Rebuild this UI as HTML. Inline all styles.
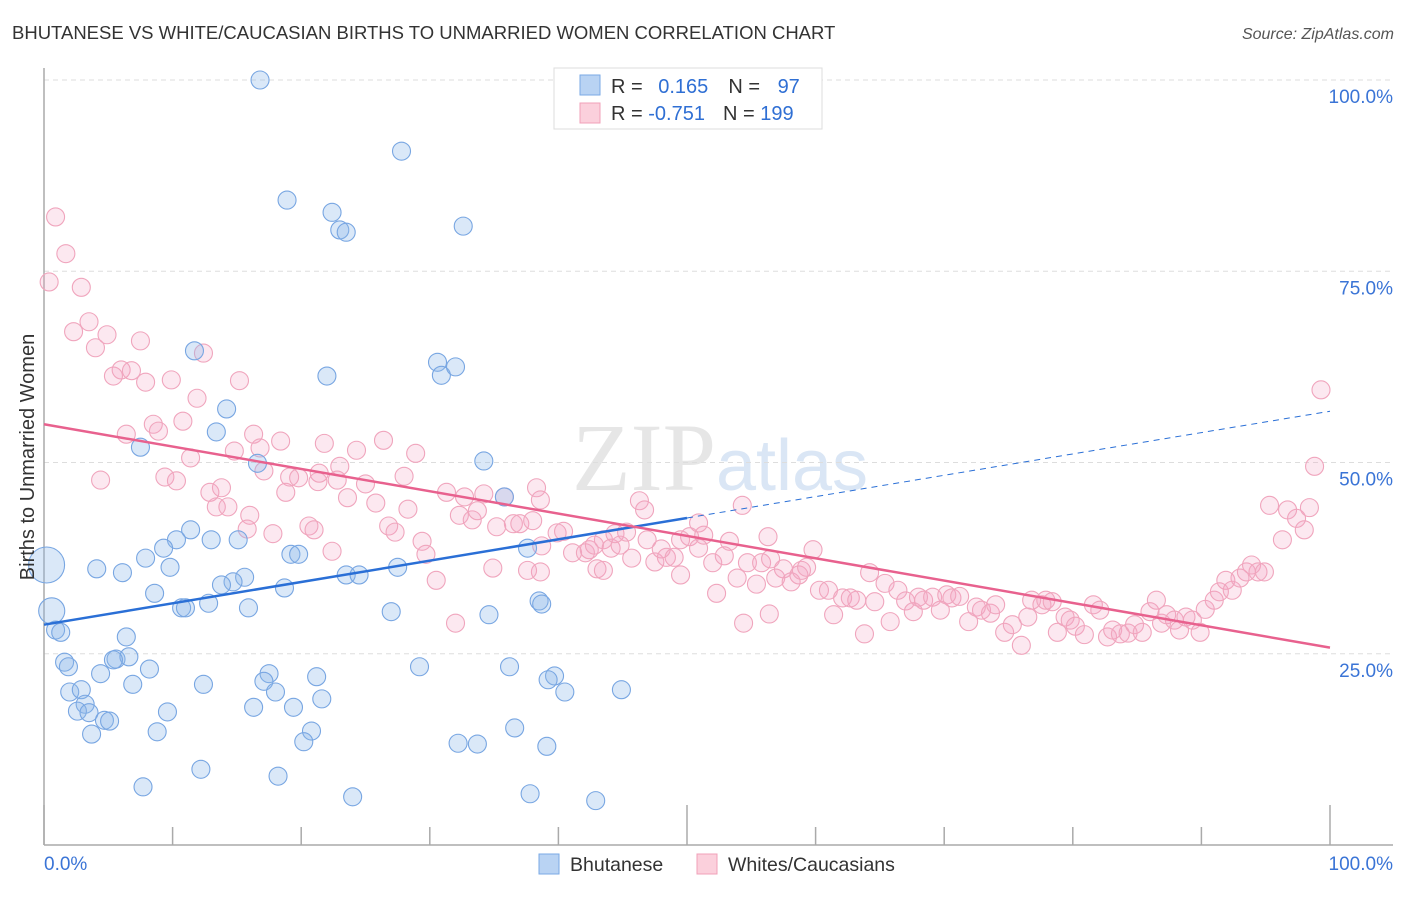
<!DOCTYPE html>
<html><head><meta charset="utf-8"><style>
body{margin:0;background:#fff;font-family:"Liberation Sans",sans-serif;}
</style></head><body>
<svg id="chart" width="1406" height="892" viewBox="0 0 1406 892" xmlns="http://www.w3.org/2000/svg" font-family="Liberation Sans, sans-serif">
<text x="12" y="39" font-size="18.5" fill="#333">BHUTANESE VS WHITE/CAUCASIAN BIRTHS TO UNMARRIED WOMEN CORRELATION CHART</text>
<text x="1394" y="39" font-size="16" fill="#555" font-style="italic" text-anchor="end">Source: ZipAtlas.com</text>
<text x="720" y="490" font-size="96" fill="#e6e6e6" text-anchor="middle" font-family="Liberation Serif, serif">ZIP<tspan fill="#dae6f5" font-family="Liberation Sans, sans-serif" font-size="72">atlas</tspan></text>
<g id="grid"></g>
<g id="axes"></g>
<g id="pts"></g>
<g id="trend"></g>
<text transform="translate(34,457) rotate(-90)" font-size="20" fill="#333" text-anchor="middle">Births to Unmarried Women</text>
<g>
<rect x="554" y="68" width="268" height="61" fill="#fff" stroke="#ddd"/>
<rect x="580" y="75" width="20" height="20" fill="#b9d3f3" stroke="#7aaae6"/>
<rect x="580" y="103" width="20" height="20" fill="#fbd0dc" stroke="#f0a0b8"/>
<text x="611" y="93" font-size="20" fill="#333">R = <tspan fill="#2f6fd4" dx="10">0.165</tspan><tspan dx="20" fill="#333">N = </tspan><tspan dx="12" fill="#2f6fd4">97</tspan></text>
<text x="611" y="120" font-size="20" fill="#333">R = <tspan fill="#2f6fd4">-0.751</tspan><tspan dx="18" fill="#333">N = </tspan><tspan fill="#2f6fd4">199</tspan></text>
</g>
<g>
<rect x="539" y="854" width="20" height="20" fill="#b9d3f3" stroke="#7aaae6"/>
<text x="570" y="871" font-size="19.5" fill="#333">Bhutanese</text>
<rect x="697" y="854" width="20" height="20" fill="#fbd0dc" stroke="#f0a0b8"/>
<text x="728" y="871" font-size="19.5" fill="#333">Whites/Caucasians</text>
</g>
</svg>
<script>
const blueX=[16.8,27.8,18.9,22.4,23.0,23.5,32.6,11.7,30.6,30.9,32.0,22.0,14.2,13.4,7.5,16.6,34.2,35.8,11.4,10.3,13.0,15.1,9.3,7.9,9.8,4.1,6.1,19.2,19.8,37.6,27.5,15.6,14.7,13.8,18.7,8.6,23.5,24.5,12.8,15.9,10.7,11.0,27.0,34.6,38.5,38.7,0.9,1.3,6.4,1.6,1.9,4.4,5.6,6.6,8.2,5.4,17.5,21.2,29.2,36.2,39.7,39.2,40.5,44.9,6.9,12.4,17.1,18.0,2.0,2.9,3.2,2.6,3.5,21.6,19.4,16.3,9.6,4.7,5.1,3.7,8.8,20.8,20.2,32.2,33.7,36.6,39.1,12.2,18.2,7.7,24.0,37.8,42.9,0.2,0.6];
const blueY=[100,90.7,84.3,82.7,80.4,80.1,80.9,64.6,63.1,61.4,62.5,61.3,57.0,54.0,52.0,49.9,50.2,45.5,41.2,39.9,39.9,39.9,38.8,37.5,36.3,36.1,35.6,38.0,38.0,38.8,36.3,35.0,34.4,34.0,33.6,32.9,35.3,35.3,31.6,31.0,31.0,31.0,30.5,30.1,31.9,31.5,28.1,27.8,27.2,23.9,23.3,22.4,24.3,24.6,23.0,24.2,22.4,22.0,23.3,23.3,22.1,21.6,20.0,20.3,21.0,21.0,21.4,20.0,20.0,20.3,18.4,17.5,17.3,19.1,18.0,18.0,17.4,16.3,16.2,14.5,14.8,14.9,13.5,13.3,13.2,15.3,12.9,9.9,9.0,7.6,6.3,6.7,5.8,36.6,30.6];
const blueWeight=new Array(93).fill(1).concat([2,1.45]);
const pinkX=[0.9,1.7,0.4,2.9,2.3,3.5,4.0,4.9,7.5,12.4,5.4,6.0,6.8,7.9,9.9,11.9,15.2,4.4,8.5,8.9,10.8,6.4,11.4,14.8,16.3,18.4,16.8,21.8,24.3,26.4,28.9,9.4,10.3,12.9,13.8,13.4,14.3,16.0,17.1,19.1,19.8,18.8,21.3,23.0,25.0,22.8,23.6,25.8,28.0,21.4,28.3,31.3,32.7,34.2,35.8,38.3,38.6,15.8,17.8,20.6,21.0,22.4,26.8,27.3,29.4,29.7,30.5,32.3,33.3,33.7,35.2,36.5,37.0,38.0,39.9,40.4,41.1,42.1,42.4,43.0,43.5,44.1,44.8,45.7,46.3,46.7,44.4,45.3,47.5,48.0,48.4,49.0,49.5,50.2,50.9,51.3,52.0,52.9,53.3,53.9,54.7,55.4,55.8,56.5,56.9,57.5,58.1,58.7,58.9,59.3,59.8,60.3,61.0,61.4,62.1,62.7,63.2,64.2,64.6,65.4,65.8,66.4,67.0,67.6,68.0,68.4,69.1,69.7,70.2,70.6,71.2,71.9,72.5,72.9,73.6,74.0,74.7,75.3,76.0,76.5,76.8,77.6,77.9,78.4,78.8,79.4,79.8,80.2,80.9,81.6,82.1,82.7,83.1,83.7,84.3,84.8,85.4,86.0,86.5,86.9,87.3,87.9,88.3,88.8,89.3,89.9,90.3,91.0,91.4,91.9,92.4,93.0,93.5,93.9,94.4,94.9,95.3,96.3,96.7,97.4,98.0,98.4,98.8,99.3,63.8,54.4,56.4,52.3,32.0,38.6,34.9,37.6,43.5,42.8,38.7,56.3,54.3,50.9,46.9,49.5];
const pinkY=[82.1,77.3,73.6,72.9,67.1,68.4,65.0,66.7,65.9,64.3,61.3,62.1,62.0,60.5,60.8,58.4,60.7,47.7,55.0,54.1,55.4,53.7,50.6,51.5,53.7,52.8,51.9,52.5,51.6,52.9,51.2,48.1,47.6,46.1,46.7,44.2,44.2,43.1,48.9,48.1,48.0,46.1,47.5,49.5,47.2,47.7,45.4,44.7,48.2,48.6,43.9,46.1,45.5,45.9,45.5,46.7,45.1,41.3,40.7,41.7,41.2,38.4,41.7,40.9,39.7,38.0,34.6,43.1,42.5,43.7,41.6,42.0,42.0,42.4,40.8,41.0,38.2,38.2,38.6,36.1,39.9,38.8,39.2,37.5,45.0,43.8,40.7,40.9,37.0,38.7,37.6,37.6,35.3,40.3,38.8,40.5,36.9,37.8,39.7,34.9,36.9,34.1,36.9,37.4,34.9,36.1,34.4,35.3,35.9,36.3,38.6,33.3,33.3,30.1,32.3,32.3,32.0,35.6,31.8,34.2,29.2,33.3,31.9,30.5,32.4,32.0,32.4,30.7,32.7,32.3,32.5,29.2,31.1,30.7,30.3,31.4,27.8,28.8,26.1,29.8,32.0,31.4,32.0,31.8,27.8,29.8,29.4,28.6,27.5,31.4,30.7,27.2,28.1,27.6,27.7,28.8,27.8,30.5,32.0,29.0,30.1,29.4,28.1,29.8,29.4,27.8,30.8,32.0,33.1,34.6,33.3,34.9,35.7,36.6,35.7,35.7,44.4,39.9,43.8,42.7,41.2,44.1,49.5,59.5,27.6,29.0,30.2,32.9,29.0,35.7,36.2,35.9,35.9,39.2,39.1,40.3,44.4,42.1,39.9,39.9];
const blueTrend=[28.8,56.7];
const pinkTrend=[55.0,25.8];
const yTicks=[25,50,75,100];
const yTickLabels=["25.0%","50.0%","75.0%","100.0%"];
const xTicks=[0,10,20,30,40,50,60,70,80,90,100];

const NS="http://www.w3.org/2000/svg";
const X0=44,X1=1330,Y0=845,Y1=80;
const sx=v=>X0+(X1-X0)*v/100;
const sy=v=>Y0-(Y0-Y1)*v/100;
function mk(tag,attrs,parent){const e=document.createElementNS(NS,tag);for(const k in attrs)e.setAttribute(k,attrs[k]);parent.appendChild(e);return e;}
const grid=document.getElementById('grid'),axes=document.getElementById('axes'),pts=document.getElementById('pts'),trend=document.getElementById('trend');
yTicks.forEach((t,i)=>{
  const l=mk('line',{x1:X0,x2:1393,y1:sy(t),y2:sy(t),stroke:'#ddd','stroke-dasharray':'5,4'},grid);
  
  
  const tx=mk('text',{x:1393,y:sy(t)+23,'font-size':19,fill:'#3a74d6','text-anchor':'end'},grid);
  tx.textContent=yTickLabels[i];
  
  
});
const ax=mk('line',{x1:X0,x2:1393,y1:Y0,y2:Y0,stroke:'#aaa','stroke-width':1.5},axes);


const ay=mk('line',{x1:X0,x2:X0,y1:68,y2:Y0,stroke:'#aaa','stroke-width':1.5},axes);


xTicks.forEach(t=>{
  const tl=(t===0||t===50||t===100)?40:18;
  const l=mk('line',{x1:sx(t),x2:sx(t),y1:Y0,y2:Y0-tl,stroke:'#aaa','stroke-width':1.5},axes);
  
  
});
const xl0=mk('text',{x:44,y:870,'font-size':19,fill:'#3a74d6'},axes);xl0.textContent='0.0%';


const xl1=mk('text',{x:1393,y:870,'font-size':19,fill:'#3a74d6','text-anchor':'end'},axes);xl1.textContent='100.0%';



pinkX.forEach((x,i)=>{
  const c=mk('circle',{cx:sx(x),cy:sy(pinkY[i]),r:9,fill:'rgba(244,165,195,0.25)',stroke:'#f0a5bd','stroke-width':1.1},pts);
  
  
});
blueX.forEach((x,i)=>{
  const c=mk('circle',{cx:sx(x),cy:sy(blueY[i]),r:9*blueWeight[i],fill:'rgba(140,182,232,0.32)',stroke:'#78a6e2','stroke-width':1.1},pts);
  
  
});
const bAt=v=>blueTrend[0]+(blueTrend[1]-blueTrend[0])*v/100;
const pAt=v=>pinkTrend[0]+(pinkTrend[1]-pinkTrend[0])*v/100;
const b1=mk('line',{x1:sx(0),y1:sy(bAt(0)),x2:sx(50),y2:sy(bAt(50)),stroke:'#2a6fd6','stroke-width':2.5},trend);


const b2=mk('line',{x1:sx(50),y1:sy(bAt(50)),x2:sx(100),y2:sy(bAt(100)),stroke:'#2a6fd6','stroke-width':1,'stroke-dasharray':'6,5'},trend);


const p1=mk('line',{x1:sx(0),y1:sy(pAt(0)),x2:sx(100),y2:sy(pAt(100)),stroke:'#e8618e','stroke-width':2.5},trend);


</script>
</body></html>
